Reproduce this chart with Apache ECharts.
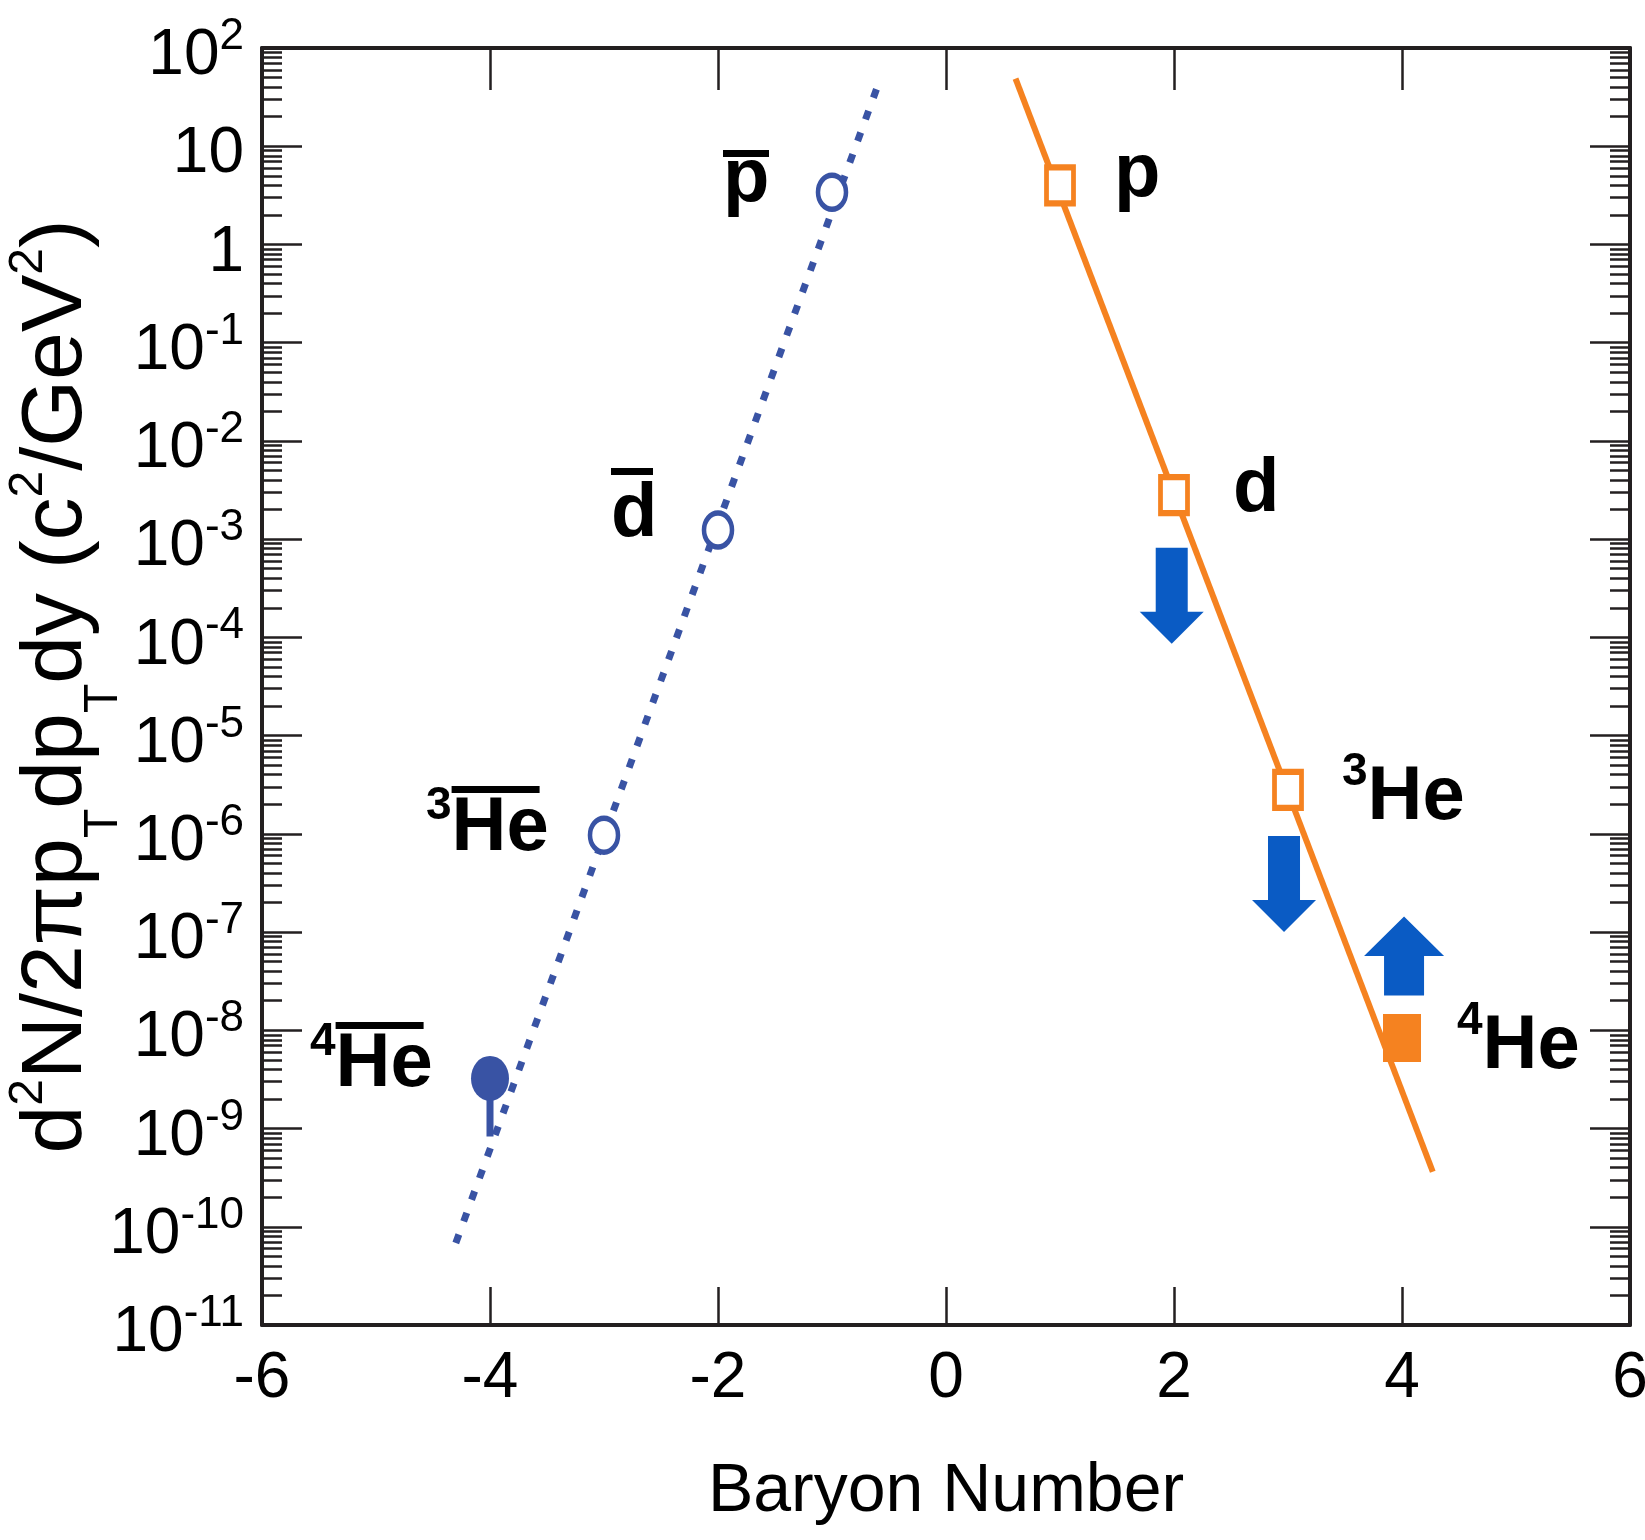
<!DOCTYPE html>
<html><head><meta charset="utf-8">
<script src="https://cdn.jsdelivr.net/npm/echarts@6/dist/echarts.min.js"></script>
<style>html,body{margin:0;padding:0;background:#fff}#c{width:1645px;height:1540px}</style>
</head><body><div id="c"></div>
<script>
// ---------------- data ----------------
const xTickValues = [-6, -4, -2, 0, 2, 4, 6];
const yTickExponents = [-11, -10, -9, -8, -7, -6, -5, -4, -3, -2, -1, 0, 1, 2];
const minorMultipliers = [2, 3, 4, 5, 6, 7, 8, 9];

const antiNames = ['pbar', 'dbar', 'He3bar', 'He4bar'];
const antiBaryon = [-1, -2, -3, -4];
const antiYield = [3.4, 1.24e-3, 9.7e-7, 3.24e-9];
const antiHe4ErrLow = 8.3e-10;

const matterNames = ['p', 'd', 'He3', 'He4'];
const matterBaryon = [1, 2, 3, 4];
const matterYield = [4.0, 2.81e-3, 2.8e-6, 8.34e-9];

const antiFitX = [-4.30, -0.61];
const antiFitY = [6.84e-11, 38];
const matterFitX = [0.61, 4.27];
const matterFitY = [48.7, 3.63e-10];

const arrowX = [1.98, 2.965, 4.018];
const arrowY = [2.66e-4, 3.09e-7, 5.7e-8];
const arrowDir = ['down', 'down', 'up'];

// ---------------- styles ----------------
const FONT = '"Liberation Sans", Arial, Helvetica, sans-serif';
const AXIS = '#231f20';
const BLUE = '#3953a4', ORANGE = '#f58220', ARROW = '#0a5bc4';
const lg = Math.log10;

const minorTickValues = [];
yTickExponents.slice(0, -1).forEach(e => minorMultipliers.forEach(m => minorTickValues.push(e + lg(m))));

const LBL = 76;
const tok = (lh) => ({fontSize: LBL, fontWeight: 'bold', fontFamily: FONT, color: '#000', lineHeight: lh, align: 'left', textBorderWidth: 0});
const labelRich = {
  tx: tok(76), tp: tok(46), td: tok(81), th: tok(72),
  su: {fontSize: 46, fontWeight: 'bold', fontFamily: FONT, color: '#000', lineHeight: 26, height: 26, verticalAlign: 'top', align: 'left', textBorderWidth: 0},
  sp: {width: 25.6, height: 7, lineHeight: 7, fontSize: 1, align: 'left'},
  ov46: {width: 46, height: 7, lineHeight: 7, fontSize: 1, backgroundColor: '#000', align: 'left'},
  ov44: {width: 42, height: 7, lineHeight: 7, fontSize: 1, backgroundColor: '#000', align: 'left'},
  ov90: {width: 88, height: 7, lineHeight: 7, fontSize: 1, backgroundColor: '#000', align: 'left'}
};
const labelCfg = {
  pbar:   {text: '{ov46| }\n{tp|p}', offset: [-109, -15.8]},
  dbar:   {text: '{ov44| }\n{td|d}', offset: [-107, -18]},
  He3bar: {text: '{sp| }{ov90| }\n{su|3}{th|He}', offset: [-178, -9.6]},
  He4bar: {text: '{sp| }{ov90| }\n{su|4}{th|He}', offset: [-180, -16.9]},
  p:      {text: '{tx|p}', offset: [54, -10.6]},
  d:      {text: '{tx|d}', offset: [59, -4.6]},
  He3:    {text: '{su|3}{tx|He}', offset: [54, 7.8]},
  He4:    {text: '{su|4}{tx|He}', offset: [55, 8.7]}
};
function mkLabel(name) {
  const c = labelCfg[name];
  return {show: true, position: 'inside', align: 'left', verticalAlign: 'middle', color: '#000',
    textBorderWidth: 0, offset: c.offset, formatter: () => c.text, rich: labelRich};
}

const antiData = antiNames.map((n, i) => {
  const filled = i === 3;
  return {
    name: n, value: [antiBaryon[i], lg(antiYield[i])],
    symbol: 'circle', symbolSize: filled ? [38, 45] : [28, 34],
    itemStyle: filled ? {color: BLUE, opacity: 1} : {color: '#fff', borderColor: BLUE, borderWidth: 5, opacity: 1},
    label: mkLabel(n)
  };
});
const matterData = matterNames.map((n, i) => {
  const filled = i === 3;
  return {
    name: n, value: [matterBaryon[i], lg(matterYield[i])],
    symbol: 'rect', symbolSize: filled ? [38, 48] : [27, 36],
    itemStyle: filled ? {color: ORANGE, opacity: 1} : {color: '#fff', borderColor: ORANGE, borderWidth: 5.5, opacity: 1},
    label: mkLabel(n)
  };
});
const DOWN = 'path://M1,0L3,0L3,4L4,4L2,6L0,4L1,4Z';
const UP = 'path://M2,0L4,2L3,2L3,4L1,4L1,2L0,2Z';
const arrowData = arrowX.map((x, i) => ({
  value: [x, lg(arrowY[i])],
  symbol: arrowDir[i] === 'down' ? DOWN : UP,
  symbolSize: arrowDir[i] === 'down' ? [64, 96] : [80, 79]
}));

const yLabelFmt = v => {
  const e = Math.round(v);
  if (e === 0) return '{b|1}';
  if (e === 1) return '{b|10}';
  return '{b|10}{s|' + e + '}';
};
const yLabelRich = {
  b: {fontSize: 64, lineHeight: 64, fontFamily: FONT, color: '#000'},
  s: {fontSize: 44, lineHeight: 20, height: 20, fontFamily: FONT, color: '#000', verticalAlign: 'top', padding: [2.4, 0, 0, 0]}
};

const lineAx = {show: true, onZero: false, lineStyle: {color: AXIS, width: 4}};
const noLine = {show: false, onZero: false};
const majTick = len => ({show: true, inside: true, length: len, lineStyle: {color: AXIS, width: 2.5}});
const minTick = {show: true, inside: true, length: 20, customValues: minorTickValues, lineStyle: {color: AXIS, width: 2.5}};

const yBase = {type: 'value', min: -11, max: 2, splitLine: {show: false}};
const yName = '{r|d}{su|2}{r|N/2πp}{sb|T}{r|dp}{sb|T}{r|dy (c}{su|2}{r|/GeV}{su|2}{r|)}';

const option = {
  backgroundColor: '#fff',
  animation: false,
  grid: {left: 262, right: 15, top: 48, bottom: 215, containLabel: false, outerBoundsMode: 'none'},
  xAxis: [
    {type: 'value', min: -6, max: 6, interval: 2, position: 'bottom',
     name: 'Baryon Number', nameLocation: 'middle', nameGap: 133, nameMoveOverlap: false,
     nameTextStyle: {fontSize: 68, lineHeight: 68, fontFamily: FONT, color: '#000'},
     axisLine: lineAx, axisTick: majTick(38),
     axisLabel: {fontSize: 64, fontFamily: FONT, color: '#000', margin: 22, formatter: v => String(v)},
     splitLine: {show: false}},
    {type: 'value', min: -6, max: 6, interval: 2, position: 'top',
     axisLine: lineAx, axisTick: majTick(42), axisLabel: {show: false}, splitLine: {show: false}}
  ],
  yAxis: [
    Object.assign({}, yBase, {interval: 1, position: 'left',
      name: yName, nameLocation: 'middle', nameGap: 162, nameMoveOverlap: false,
      nameTextStyle: {fontSize: 86, fontFamily: FONT, color: '#000', rich: {
        r: {fontSize: 86, lineHeight: 86, fontFamily: FONT, color: '#000', verticalAlign: 'top'},
        su: {fontSize: 48, lineHeight: 20, height: 20, fontFamily: FONT, color: '#000', verticalAlign: 'top', padding: [4.9, 0, 0, 0]},
        sb: {fontSize: 48, lineHeight: 20, height: 20, fontFamily: FONT, color: '#000', verticalAlign: 'top', padding: [79.5, 0, 0, 0]}
      }},
      axisLine: lineAx, axisTick: majTick(40),
      axisLabel: {formatter: yLabelFmt, rich: yLabelRich, margin: 18, padding: [17, 0, 0, 0]}}),
    Object.assign({}, yBase, {position: 'left', axisLine: noLine, axisTick: minTick, axisLabel: {show: false}}),
    Object.assign({}, yBase, {interval: 1, position: 'right', axisLine: lineAx, axisTick: majTick(40), axisLabel: {show: false}}),
    Object.assign({}, yBase, {position: 'right', axisLine: noLine, axisTick: minTick, axisLabel: {show: false}})
  ],
  series: [
    {type: 'line', name: 'antiFit', z: 2, symbol: 'none', silent: true,
     data: antiFitX.map((x, i) => [x, lg(antiFitY[i])]),
     lineStyle: {color: BLUE, width: 7, type: [9, 14], cap: 'butt'}},
    {type: 'line', name: 'matterFit', z: 2, symbol: 'none', silent: true,
     data: matterFitX.map((x, i) => [x, lg(matterFitY[i])]),
     lineStyle: {color: ORANGE, width: 6}},
    {type: 'line', name: 'antiHe4Err', z: 3, symbol: 'none', silent: true,
     data: [[antiBaryon[3], lg(antiYield[3])], [antiBaryon[3], lg(antiHe4ErrLow)]],
     lineStyle: {color: BLUE, width: 7}},
    {type: 'scatter', name: 'antimatter', z: 4, data: antiData},
    {type: 'scatter', name: 'matter', z: 4, data: matterData},
    {type: 'scatter', name: 'arrows', z: 5, data: arrowData, itemStyle: {color: ARROW, opacity: 1}}
  ]
};
const chart = echarts.init(document.getElementById('c'));
chart.setOption(option);
</script></body></html>
